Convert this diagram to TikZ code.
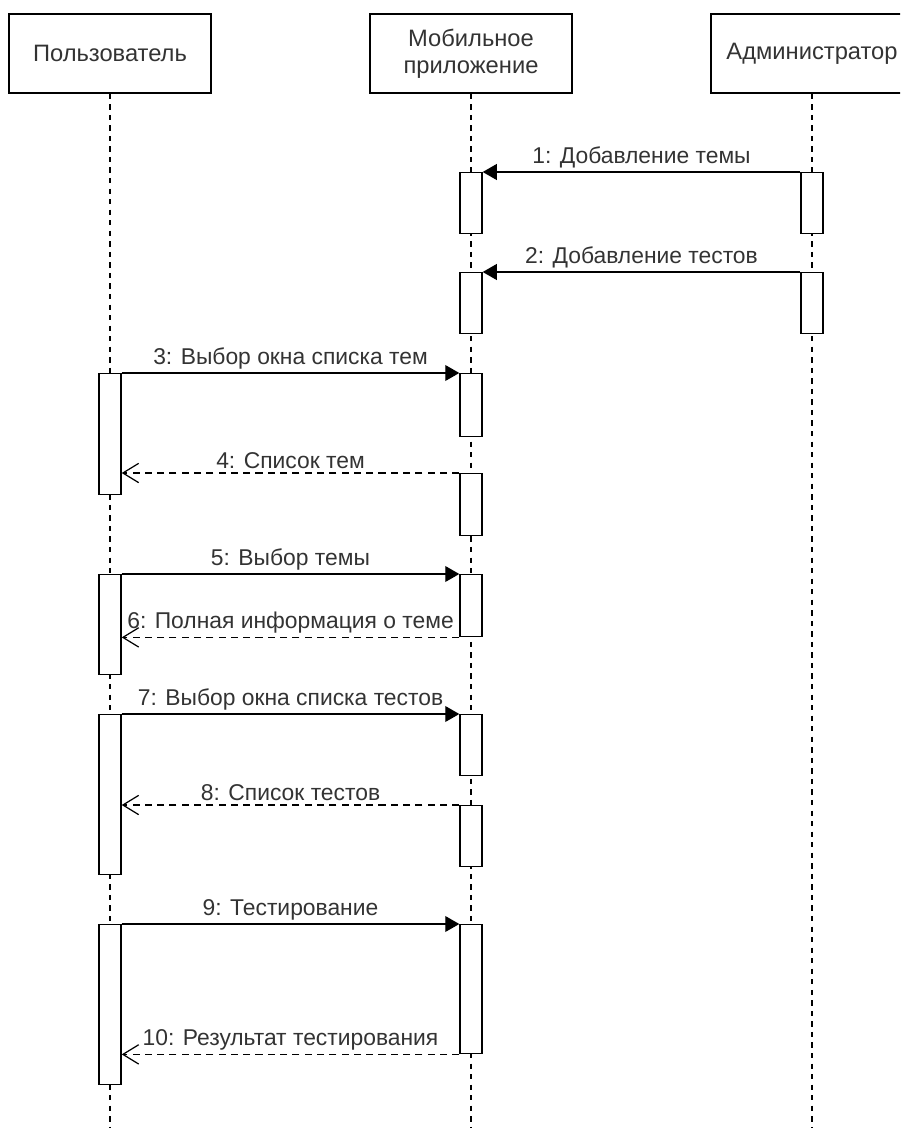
\documentclass[tikz,border=0pt]{standalone}
\usepackage{fontspec}
\setmainfont{Liberation Sans}
\usetikzlibrary{arrows.meta}

\begin{document}
\begin{tikzpicture}[x=0.02cm,y=-0.02cm]%
\tikzstyle{actor} = [draw, line width=0.8pt, rectangle, minimum width=4.04cm,
    minimum height=1.58cm, align=center, text=black!80,
    font=\fontsize{13.5}{15.5}\selectfont]
\tikzstyle{bar} = [draw, line width=0.8pt, fill=white, rectangle, anchor=north,
    minimum width=0.44cm, inner sep=0pt]
\tikzstyle{lifeline} = [line width=0.7pt, dash pattern=on 3pt off 3pt]
\tikzstyle{msg} = [line width=0.7pt, -{Triangle[length=8pt,width=9pt]}]
\tikzstyle{reply} = [line width=0.7pt, dash pattern=on 4pt off 3pt,
    -{Straight Barb[length=9pt,width=11pt,line width=0.7pt]}]
\tikzstyle{lbl} = [above=1pt, inner sep=1pt, text=black!80,
    font=\fontsize{13}{15}\selectfont]

\useasboundingbox (0,0) rectangle (900,1128);
\clip (0,0) rectangle (900,1128);

\node[actor] (user) at (110,53.5) {Пользователь};
\node[actor] (app) at (471,53.5) {Мобильное\\приложение};
\node[actor] (admin) at (812,53.5) {Администратор};

\coordinate (end) at (0,1128);
\draw[lifeline] (user.south) -- (user.south |- end);
\draw[lifeline] (app.south) -- (app.south |- end);
\draw[lifeline] (admin.south) -- (admin.south |- end);

% activation bars
\node[bar, minimum height=1.22cm] (m1) at (471,172) {};
\node[bar, minimum height=1.22cm] (d1) at (812,172) {};
\node[bar, minimum height=1.22cm] (m2) at (471,272) {};
\node[bar, minimum height=1.22cm] (d2) at (812,272) {};
\node[bar, minimum height=2.42cm] (u3) at (110,373) {};
\node[bar, minimum height=1.26cm] (m3) at (471,373) {};
\node[bar, minimum height=1.24cm] (m4) at (471,473) {};
\node[bar, minimum height=2.00cm] (u5) at (110,574) {};
\node[bar, minimum height=1.24cm] (m5) at (471,574) {};
\node[bar, minimum height=3.20cm] (u7) at (110,714) {};
\node[bar, minimum height=1.22cm] (m7) at (471,714) {};
\node[bar, minimum height=1.22cm] (m8) at (471,805) {};
\node[bar, minimum height=3.20cm] (u9) at (110,924) {};
\node[bar, minimum height=2.58cm] (m9) at (471,924) {};

% messages
\draw[msg] (d1.north west) -- node[lbl]{1: Добавление темы} (m1.north east);
\draw[msg] (d2.north west) -- node[lbl]{2: Добавление тестов} (m2.north east);
\draw[msg] (u3.north east) -- node[lbl]{3: Выбор окна списка тем} (m3.north west);
\draw[reply] (m4.north west) -- node[lbl]{4: Список тем} (m4.north west -| u3.east);
\draw[msg] (u5.north east) -- node[lbl]{5: Выбор темы} (m5.north west);
\draw[reply] (m5.south west) -- node[lbl]{6: Полная информация о теме} (m5.south west -| u5.east);
\draw[msg] (u7.north east) -- node[lbl]{7: Выбор окна списка тестов} (m7.north west);
\draw[reply] (m8.north west) -- node[lbl]{8: Список тестов} (m8.north west -| u7.east);
\draw[msg] (u9.north east) -- node[lbl]{9: Тестирование} (m9.north west);
\draw[reply] (m9.south west) -- node[lbl]{10: Результат тестирования} (m9.south west -| u9.east);
\end{tikzpicture}
\end{document}
